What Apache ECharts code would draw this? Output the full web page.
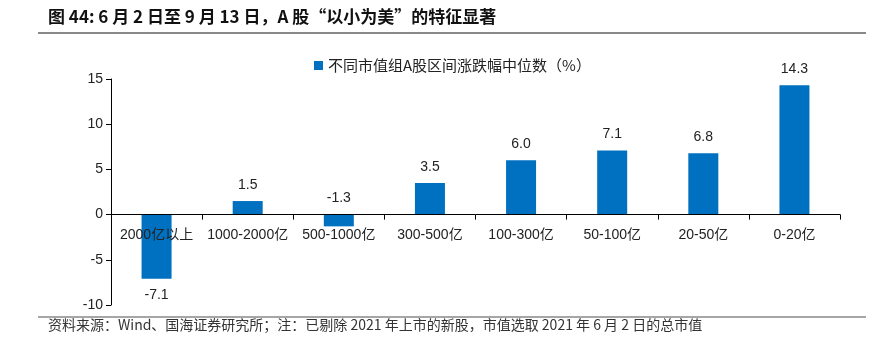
<!DOCTYPE html>
<html><head><meta charset="utf-8">
<script src="https://cdn.jsdelivr.net/npm/echarts@6/dist/echarts.min.js"></script>
<style>html,body{margin:0;padding:0;background:#fff}#c{width:873px;height:347px}</style>
</head><body><div id="c"></div>
<script>
const categories = ['2000亿以上','1000-2000亿','500-1000亿','300-500亿','100-300亿','50-100亿','20-50亿','0-20亿'];
const values = [-7.1, 1.5, -1.3, 3.5, 6.0, 7.1, 6.8, 14.3];
const seriesName = '不同市值组A股区间涨跌幅中位数（%）';
const titleText = '图 44: 6 月 2 日至 9 月 13 日，A 股“以小为美”的特征显著';
const footText = '资料来源：Wind、国海证券研究所；注：已剔除 2021 年上市的新股，市值选取 2021 年 6 月 2 日的总市值';

// short negative bars carry their label above the zero line (as in the source chart)
const barData = values.map(v => (v < 0 && v > -3) ? {value: v, label: {position: 'top'}} : v);

const chart = echarts.init(document.getElementById('c'), null, {renderer:'canvas'});
chart.setOption({
  animation:false,
  backgroundColor:'#fff',
  grid:{left:111, right:33, top:79, bottom:42},
  legend:{
    left:309, top:53, itemWidth:9, itemHeight:9, itemGap:5,
    icon:'rect',
    textStyle:{fontFamily:'Noto Sans CJK SC', fontSize:15, color:'#222'},
    data:[seriesName]
  },
  xAxis:{
    type:'category', data:categories, z:5,
    axisLine:{onZero:true, lineStyle:{color:'#000', width:1}},
    axisTick:{show:true, length:5, lineStyle:{color:'#000'}},
    axisLabel:{margin:-77, fontFamily:'Liberation Sans, Noto Sans CJK SC', fontSize:14, color:'#222', interval:0}
  },
  yAxis:{
    type:'value', min:-10, max:15, interval:5,
    axisLine:{show:true, lineStyle:{color:'#000', width:1}},
    axisTick:{show:true, length:5, lineStyle:{color:'#000'}},
    splitLine:{show:false},
    axisLabel:{margin:8, fontFamily:'Liberation Sans', fontSize:14, color:'#222'}
  },
  series:[{
    name:seriesName, type:'bar', data:barData, barWidth:30,
    itemStyle:{color:'#0070C0'},
    label:{show:true, position:'outside', distance:9, fontFamily:'Liberation Sans', fontSize:14, color:'#222',
      formatter:p=>p.value.toFixed(1)}
  }],
  graphic:[
    {type:'text', left:48, top:8, style:{text:titleText, font:'bold 17px "Noto Sans CJK SC", sans-serif', fill:'#111'}},
    {type:'line', shape:{x1:38,y1:33,x2:866,y2:33}, style:{stroke:'#888', lineWidth:2}},
    {type:'line', shape:{x1:38,y1:317,x2:866,y2:317}, style:{stroke:'#888', lineWidth:1.5}},
    {type:'text', left:48, top:318, style:{text:footText, font:'14px "Noto Sans CJK SC", sans-serif', fill:'#333'}}
  ]
});
</script></body></html>
